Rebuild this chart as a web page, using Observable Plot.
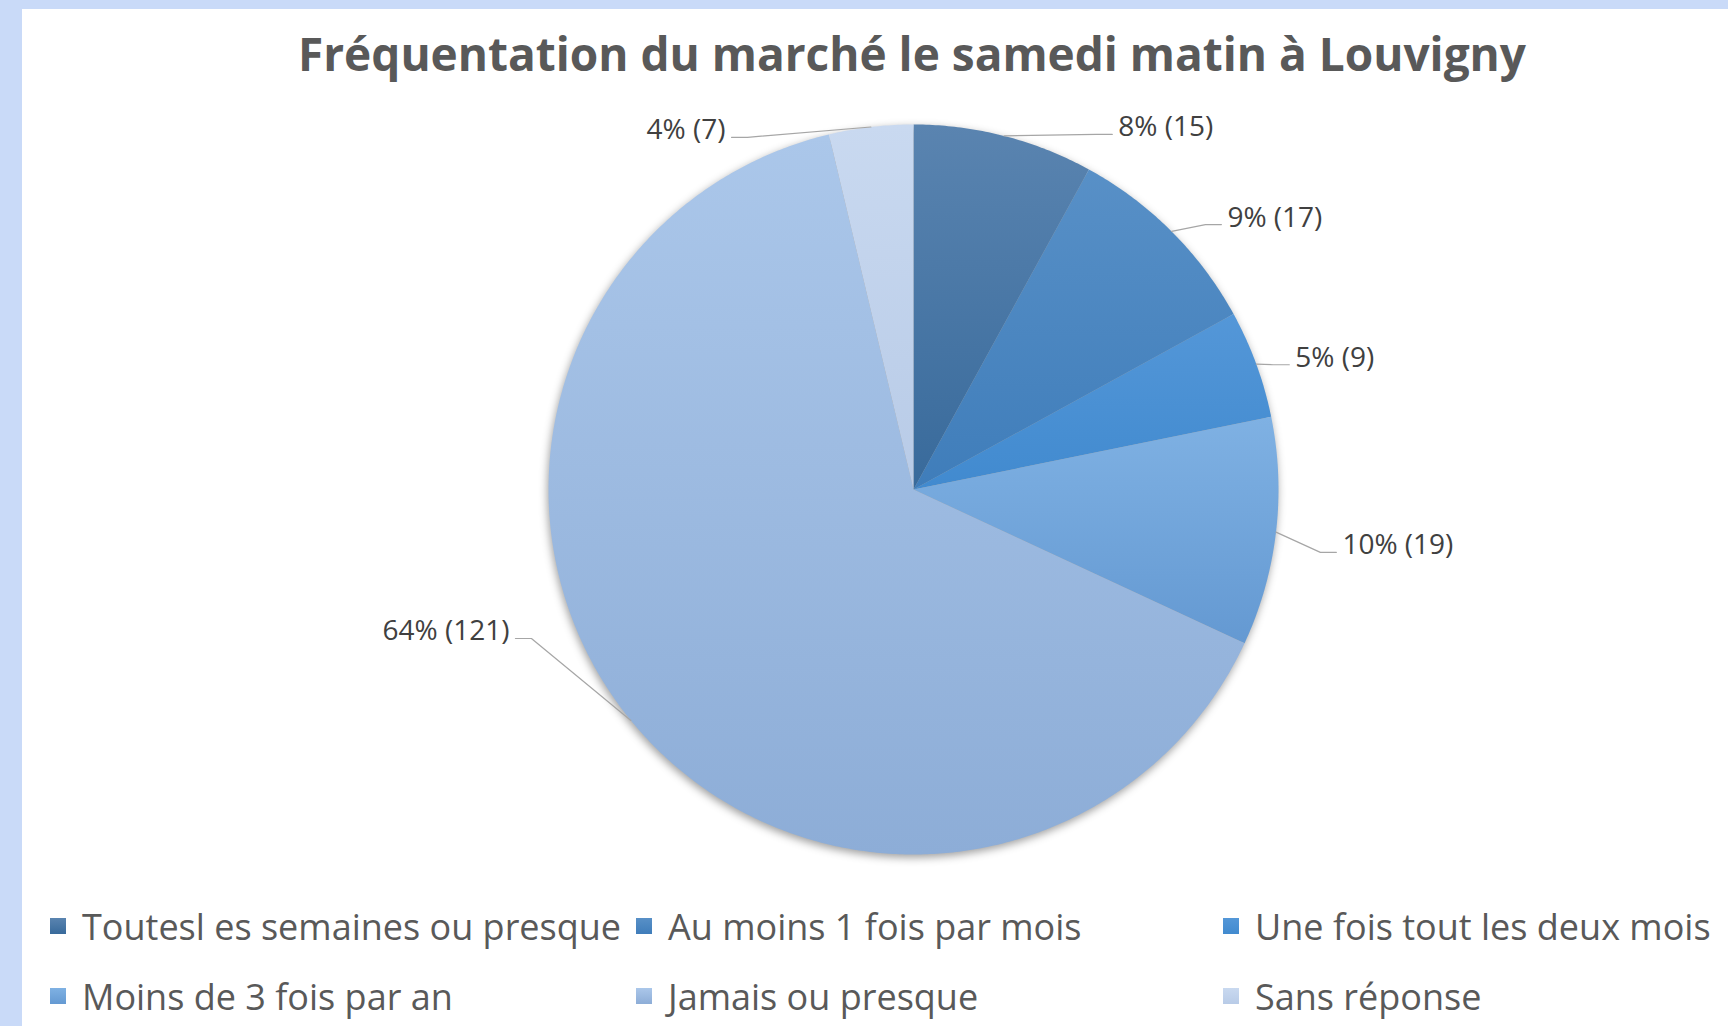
<!DOCTYPE html>
<html>
<head>
<meta charset="utf-8">
<script src="https://cdn.jsdelivr.net/npm/d3@7"></script>
<script src="https://cdn.jsdelivr.net/npm/@observablehq/plot@0.6"></script>
<style>
  html, body { margin: 0; padding: 0; }
  body { width: 1728px; height: 1026px; background: #c9daf8; position: relative; overflow: hidden; font-family: "Open Sans", sans-serif; }
  #panel { position: absolute; left: 22px; top: 9px; right: 0; bottom: 0; background: #ffffff; }
  #title { position: absolute; left: 90px; width: 1600px; top: 13px; height: 62px; line-height: 62px; text-align: center;
           font-family: "Open Sans", sans-serif; font-weight: 700; font-size: 46px; color: #595959; white-space: nowrap; }
  #chart { position: absolute; left: 0; top: 91px; }
  .leg { position: absolute; height: 44px; display: flex; align-items: center; white-space: nowrap;
         font-family: "Open Sans", sans-serif; font-size: 36px; color: #595959; }
  .sw { width: 16px; height: 16px; margin-right: 16px; flex: none; }
</style>
</head>
<body>
<div id="panel">
  <div id="title">Fréquentation du marché le samedi matin à Louvigny</div>
  <div id="chart"></div>
  <div id="legend"></div>
</div>
<script>
// ---- data ----
const categories = [
  "Toutesl es semaines ou presque",
  "Au moins 1 fois par mois",
  "Une fois tout les deux mois",
  "Moins de 3 fois par an",
  "Jamais ou presque",
  "Sans réponse"
];
const counts = [15, 17, 9, 19, 121, 7];

// ---- styles ----
const paletteTop    = ["#5a84b0", "#5890c7", "#5497d8", "#7fb1e3", "#abc7ea", "#c9d9f0"];
const paletteBottom = ["#386a9b", "#3f7dba", "#418acf", "#6499d2", "#8dadd7", "#b8cbe7"];

// ---- layout ----
const W = 1706, H = 780, CX = 891, CY = 389, R = 365;
// label anchor positions, in pie radii relative to centre (y up)
const labelLayout = [
  {x: 0.561, y: 0.992, anchor: "start"},
  {x: 0.860, y: 0.745, anchor: "start"},
  {x: 1.046, y: 0.361, anchor: "start"},
  {x: 1.175, y: -0.153, anchor: "start"},
  {x: -1.107, y: -0.389, anchor: "end"},
  {x: -0.515, y: 0.984, anchor: "end"}
];

const total = d3.sum(counts);
const arcs = d3.pie().sort(null).value(d => d)(counts);

// slice polygons
const slicePts = [];
arcs.forEach((p, i) => {
  const n = Math.max(2, Math.ceil((p.endAngle - p.startAngle) / (Math.PI / 360)));
  slicePts.push({x: 0, y: 0, key: i, paint: `url(#grad${i})`});
  for (let k = 0; k <= n; k++) {
    const a = p.startAngle + (p.endAngle - p.startAngle) * k / n;
    slicePts.push({x: Math.sin(a), y: Math.cos(a), key: i, paint: `url(#grad${i})`});
  }
  slicePts.push({x: 0, y: 0, key: i, paint: `url(#grad${i})`});
});

// labels
const labels = arcs.map((p, i) => ({
  x: labelLayout[i].x, y: labelLayout[i].y, anchor: labelLayout[i].anchor,
  text: `${Math.round(counts[i] / total * 100)}% (${counts[i]})`
}));

// leader lines
const leaderPts = [];
arcs.forEach((p, i) => {
  const L = labelLayout[i];
  const dir = L.anchor === "start" ? -1 : 1;
  const sx = L.x + dir * 6 / R, sy = L.y - 7 / R;
  const mid = (p.startAngle + p.endAngle) / 2;
  leaderPts.push({x: sx, y: sy, key: i});
  leaderPts.push({x: sx + dir * 16 / R, y: sy, key: i});
  leaderPts.push({x: Math.sin(mid), y: Math.cos(mid), key: i});
});

const x0 = -CX / R, x1 = (W - CX) / R;
const yTop = CY / R, yBot = -(H - CY) / R;

const chart = Plot.plot({
  width: W, height: H,
  margin: 0,
  x: {domain: [x0, x1], axis: null},
  y: {domain: [yBot, yTop], axis: null},
  color: {type: "identity"},
  style: {background: "transparent", overflow: "visible"},
  marks: [
    Plot.line(slicePts, {x: "x", y: "y", z: "key", fill: "paint", stroke: "none"}),
    Plot.line(leaderPts, {x: "x", y: "y", z: "key", stroke: "#a6a6a6", strokeWidth: 1.2}),
    Plot.text(labels.filter(d => d.anchor === "start"), {x: "x", y: "y", text: "text", textAnchor: "start",
      fontSize: 28, fontFamily: "Open Sans", fill: "#404040"}),
    Plot.text(labels.filter(d => d.anchor === "end"), {x: "x", y: "y", text: "text", textAnchor: "end",
      fontSize: 28, fontFamily: "Open Sans", fill: "#404040"})
  ]
});

// gradients
const defs = d3.select(chart).insert("defs", ":first-child");
arcs.forEach((p, i) => {
  const g = defs.append("linearGradient").attr("id", `grad${i}`)
    .attr("x1", 0).attr("y1", 0).attr("x2", 0).attr("y2", 1);
  g.append("stop").attr("offset", "0%").attr("stop-color", paletteTop[i]);
  g.append("stop").attr("offset", "100%").attr("stop-color", paletteBottom[i]);
});
d3.select(chart).select('g[aria-label="line"]')
  .style("filter", "drop-shadow(-1px 3px 4px rgba(0,0,0,0.38))");

document.getElementById("chart").appendChild(chart);

// legend (page coordinates converted to panel coordinates)
const colX = [50, 636, 1223], rowY = [926, 996];
const legend = d3.select("#legend");
categories.forEach((c, i) => {
  const item = legend.append("div").attr("class", "leg")
    .style("left", (colX[i % 3] - 22) + "px")
    .style("top", (rowY[Math.floor(i / 3)] - 9 - 22) + "px");
  item.append("div").attr("class", "sw")
    .style("background", `linear-gradient(${paletteTop[i]}, ${paletteBottom[i]})`);
  item.append("span").text(c);
});
</script>
</body>
</html>
